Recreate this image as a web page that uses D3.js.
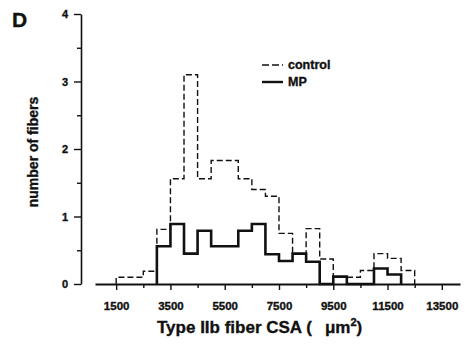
<!DOCTYPE html>
<html>
<head>
<meta charset="utf-8">
<script src="https://cdn.jsdelivr.net/npm/d3@7"></script>
<style>
  html, body { margin: 0; padding: 0; background: #fff; }
  svg text { font-family: "Liberation Sans", Arial, Helvetica, sans-serif; font-weight: bold; fill: #111; stroke: #111; stroke-width: 0.35; }
</style>
</head>
<body>
<svg id="chart" width="465" height="349"></svg>
<script>
// ---- data ----
const binStarts = [1500, 2000, 2500, 3000, 3500, 4000, 4500, 5000, 5500, 6000, 6500, 7000,
                   7500, 8000, 8500, 9000, 9500, 10000, 10500, 11000, 11500, 12000];
const binWidth = 500;
const controlCounts = [0.10, 0.10, 0.19, 0.81, 1.56, 3.10, 1.56, 1.83, 1.83, 1.56, 1.40, 1.30,
                       0.75, 0.45, 0.82, 0.37, 0.11, 0.10, 0.20, 0.45, 0.38, 0.20];
const mpCounts      = [0, 0, 0, 0.56, 0.89, 0.45, 0.79, 0.56, 0.56, 0.79, 0.89, 0.44,
                       0.34, 0.45, 0.33, 0, 0.11, 0, 0, 0.23, 0.14, 0];
const xMajorTicks = [1500, 3500, 5500, 7500, 9500, 11500, 13500];
const xMinorTicks = [2500, 4500, 6500, 8500, 10500, 12500];
const yMajorTicks = [0, 1, 2, 3, 4];
const yMinorTicks = [0.5, 1.5, 2.5, 3.5];
const seriesNames = ["control", "MP"];

// ---- scales ----
const svg = d3.select("#chart");
const x = d3.scaleLinear().domain([720, 14170]).range([95, 460]);
const y = d3.scaleLinear().domain([0, 4]).range([284, 14]);

// ---- axes ----
const yAxisMinor = d3.axisLeft(y).tickValues(yMinorTicks).tickSize(4).tickSizeOuter(0).tickFormat("");
const yAxisMajor = d3.axisLeft(y).tickValues(yMajorTicks).tickSize(7).tickSizeOuter(0).tickPadding(6).tickFormat(d3.format("d"));
const ya = svg.append("g").attr("transform", "translate(81,0)");
ya.append("g").call(yAxisMinor).call(g => g.select(".domain").remove());
ya.append("g").call(yAxisMajor);
ya.selectAll("path.domain").attr("stroke", "#111").attr("stroke-width", 1.6);
ya.selectAll(".tick line").attr("stroke", "#111").attr("stroke-width", 1.4);
ya.selectAll(".tick text").attr("font-size", 11).attr("font-family", null).attr("dy", "0.35em");

const xAxisMinor = d3.axisBottom(x).tickValues(xMinorTicks).tickSize(4).tickSizeOuter(0).tickFormat("");
const xAxisMajor = d3.axisBottom(x).tickValues(xMajorTicks).tickSize(6).tickSizeOuter(0).tickPadding(12).tickFormat(d3.format("d"));
const xa = svg.append("g").attr("transform", "translate(0," + y(0) + ")");
xa.append("g").call(xAxisMinor).call(g => g.select(".domain").remove());
xa.append("g").call(xAxisMajor);
xa.selectAll("path.domain").attr("stroke", "#111").attr("stroke-width", 2);
xa.selectAll(".tick line").attr("stroke", "#111").attr("stroke-width", 1.4);
xa.selectAll(".tick text").attr("font-size", 11.5).attr("font-family", null);

// ---- step outlines ----
function stepPoints(counts) {
  let first = counts.findIndex(v => v > 0);
  let last = counts.length - 1;
  while (last > 0 && counts[last] === 0) last--;
  const pts = [[binStarts[first], 0]];
  for (let i = first; i <= last; i++) {
    pts.push([binStarts[i], counts[i]]);
    pts.push([binStarts[i] + binWidth, counts[i]]);
  }
  pts.push([binStarts[last] + binWidth, 0]);
  return pts;
}
const line = d3.line().x(d => x(d[0])).y(d => y(d[1]));

svg.append("path")
  .attr("d", line(stepPoints(controlCounts)))
  .attr("fill", "none").attr("stroke", "#111").attr("stroke-width", 1.4)
  .attr("stroke-dasharray", "6,3");
svg.append("path")
  .attr("d", line(stepPoints(mpCounts)))
  .attr("fill", "none").attr("stroke", "#111").attr("stroke-width", 2.6)
  .attr("stroke-linejoin", "miter");

// ---- legend ----
const lg = svg.append("g");
lg.append("line").attr("x1", 262).attr("x2", 283).attr("y1", 65).attr("y2", 65)
  .attr("stroke", "#111").attr("stroke-width", 1.6).attr("stroke-dasharray", "7,3");
lg.append("text").attr("x", 288).attr("y", 69).attr("font-size", 12.5).text(seriesNames[0]);
lg.append("line").attr("x1", 262).attr("x2", 283).attr("y1", 82).attr("y2", 82)
  .attr("stroke", "#111").attr("stroke-width", 2.4);
lg.append("text").attr("x", 288).attr("y", 86).attr("font-size", 12.5).text(seriesNames[1]);

// ---- titles ----
svg.append("text").attr("x", 12).attr("y", 27).attr("font-size", 21).text("D");
svg.append("text")
  .attr("transform", "translate(38,152) rotate(-90)")
  .attr("text-anchor", "middle").attr("font-size", 14).text("number of fibers");
const xt = svg.append("text").attr("x", 157).attr("y", 333).attr("font-size", 17);
xt.append("tspan").text("Type IIb fiber CSA (");
xt.append("tspan").attr("dx", 13).text("μm");
xt.append("tspan").attr("dy", -7).attr("font-size", 11).text("2");
xt.append("tspan").attr("dy", 7).text(")");
</script>
</body>
</html>
